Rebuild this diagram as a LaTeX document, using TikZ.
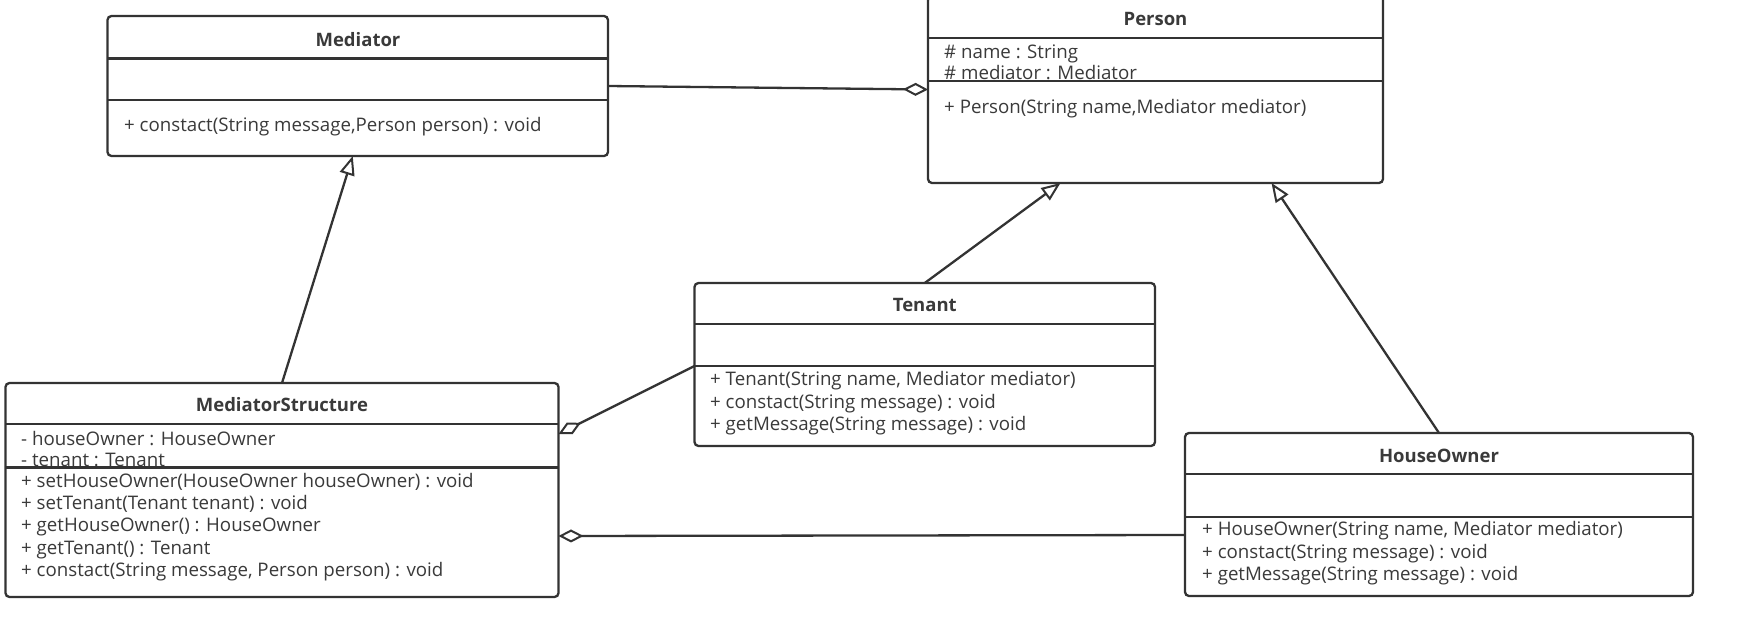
\documentclass[tikz,border=0pt]{standalone}
\usepackage{fontspec}
\setmainfont{Open Sans}
\usetikzlibrary{arrows.meta,calc}
\definecolor{ink}{HTML}{333333}
\definecolor{txt}{HTML}{3A3A3A}
\tikzset{
  umlbox/.style={draw=ink, line width=2.3pt, rounded corners=4pt, inner sep=0pt, outer sep=0pt, anchor=north west, fill=white},
  sepline/.style={draw=ink, line width=2.3pt},
  title/.style={font=\fontsize{18.5}{22}\selectfont\bfseries, text=txt, inner sep=0pt, text height=13pt, text depth=4pt, yshift=-2pt},
  member/.style={font=\fontsize{18.7}{22}\selectfont, text=txt, inner sep=0pt, anchor=west, text height=13pt, text depth=4pt, yshift=-2.5pt},
  conn/.style={draw=ink, line width=2.3pt},
  agg/.style={conn, -{Diamond[fill=white, length=25pt, width=13pt, line width=2pt]}},
  gen/.style={conn, -{Triangle[fill=white, length=19pt, width=15pt, line width=2pt]}},
}
\begin{document}
\begin{tikzpicture}[x=1pt, y=-1pt]
\useasboundingbox (0,0) rectangle (1737,634);

% ---------- Mediator ----------
\node[umlbox, minimum width=500.5pt, minimum height=140pt] (med) at (107.5,16) {};
\node[title] (medT) at (358,40) {Mediator};
\node[member] (medM1) at (124,124) {+ constact(String message,Person person) : void};
\draw[sepline] (107.5,58.5) -- (608,58.5);
\draw[sepline] (107.5,100) -- (608,100);

% ---------- Person ----------
\node[umlbox, minimum width=455pt, minimum height=187pt] (per) at (928,-4) {};
\node[title] (perT) at (1155.5,19) {Person};
\node[member] (perA1) at (944,52) {\# name : String};
\node[member] (perA2) at (944,73) {\# mediator : Mediator};
\node[member] (perM1) at (944,106) {+ Person(String name,Mediator mediator)};
\draw[sepline] (928,38) -- (1383,38);
\draw[sepline] (928,81) -- (1383,81);

% ---------- Tenant ----------
\node[umlbox, minimum width=460.5pt, minimum height=163pt] (ten) at (694.5,283) {};
\node[title] (tenT) at (924.75,305) {Tenant};
\node[member] (tenM1) at (710,378) {+ Tenant(String name, Mediator mediator)};
\node[member] (tenM2) at (710,401) {+ constact(String message) : void};
\node[member] (tenM3) at (710,423) {+ getMessage(String message) : void};
\draw[sepline] (694.5,324) -- (1155,324);
\draw[sepline] (694.5,366) -- (1155,366);

% ---------- MediatorStructure ----------
\node[umlbox, minimum width=553pt, minimum height=214pt] (ms) at (5.5,383) {};
\node[title] (msT) at (282,405) {MediatorStructure};
\node[member] (msA1) at (21,438) {- houseOwner : HouseOwner};
\node[member] (msA2) at (21,459) {- tenant : Tenant};
\node[member] (msM1) at (21,480) {+ setHouseOwner(HouseOwner houseOwner) : void};
\node[member] (msM2) at (21,502) {+ setTenant(Tenant tenant) : void};
\node[member] (msM3) at (21,524) {+ getHouseOwner() : HouseOwner};
\node[member] (msM4) at (21,547) {+ getTenant() : Tenant};
\node[member] (msM5) at (21,569) {+ constact(String message, Person person) : void};
\draw[sepline] (5.5,424) -- (558.5,424);
\draw[sepline] (5.5,467.5) -- (558.5,467.5);

% ---------- HouseOwner ----------
\node[umlbox, minimum width=508pt, minimum height=163pt] (ho) at (1185,433) {};
\node[title] (hoT) at (1439,456) {HouseOwner};
\node[member] (hoM1) at (1202,528) {+ HouseOwner(String name, Mediator mediator)};
\node[member] (hoM2) at (1202,551) {+ constact(String message) : void};
\node[member] (hoM3) at (1202,573) {+ getMessage(String message) : void};
\draw[sepline] (1185,474) -- (1693,474);
\draw[sepline] (1185,517) -- (1693,517);

% ---------- connectors ----------
\coordinate (perB1) at ($(per.south)+(-95,0)$);
\coordinate (perB2) at ($(per.south)+(116,0)$);
\coordinate (medB) at ($(med.south)+(-5,0)$);
\coordinate (tenL) at ($(ten.north west)+(0,83)$);
\coordinate (hoL) at ($(ho.north west)+(0,102)$);
\coordinate (msR1) at ($(ms.north east)+(0,51)$);
\coordinate (msR2) at ($(ms.north east)+(0,153)$);

\draw[agg] (med.east) -- (per.west);
\draw[gen] (ms.north) -- (medB);
\draw[gen] (ten.north) -- (perB1);
\draw[gen] (ho.north) -- (perB2);
\draw[agg] (tenL) -- (msR1);
\draw[agg] (hoL) -- (msR2);
\end{tikzpicture}
\end{document}
